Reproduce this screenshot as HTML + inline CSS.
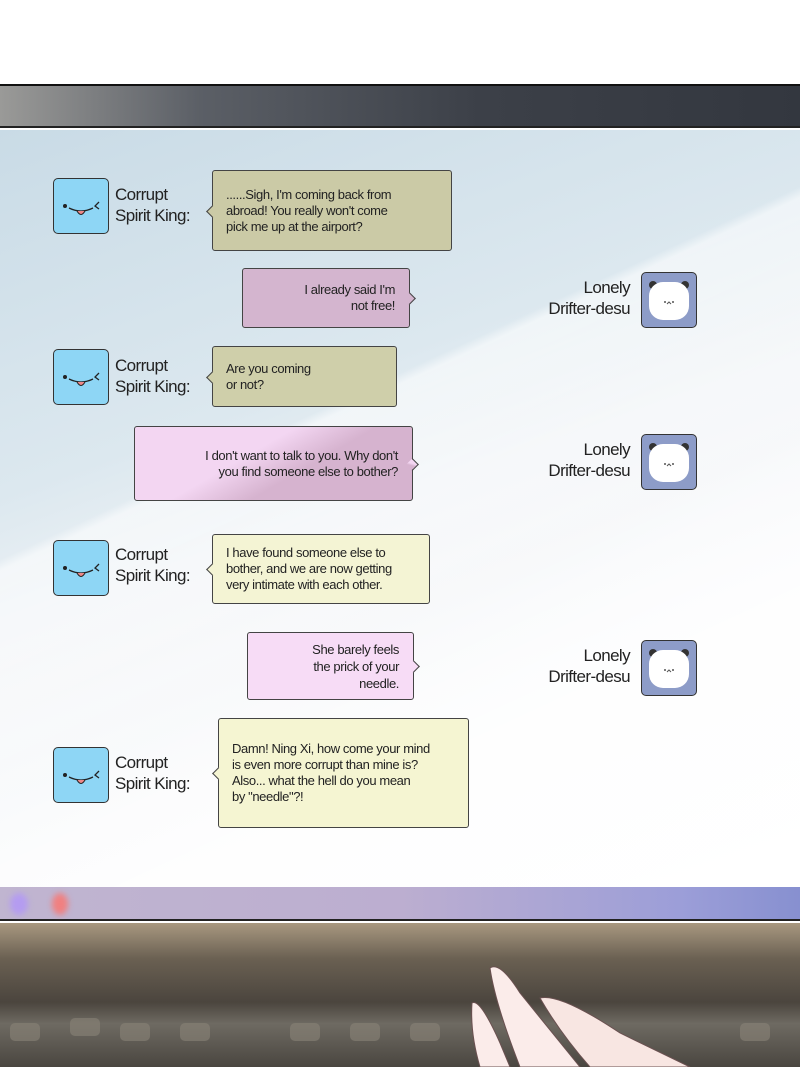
<!DOCTYPE html>
<html><head><meta charset="utf-8"><style>
*{margin:0;padding:0;box-sizing:border-box}
body{width:800px;height:1067px;position:relative;overflow:hidden;background:#fff;font-family:"Liberation Sans Narrow","Liberation Sans",sans-serif;color:#222}
.abs{position:absolute}
.bar{left:0;top:84px;width:800px;height:44px;background:linear-gradient(90deg,#9a9a98 0%,#5b5f66 25%,#3c4048 60%,#33373f 100%);border-top:2px solid #111;border-bottom:2px solid #222}
.screen{left:0;top:130px;width:800px;height:757px;background:linear-gradient(160deg,#c9dbe6 0%,#dce8ef 35%,#f0f3f6 50%,#f8f9fb 70%,#ffffff 100%)}
.diag{left:0;top:130px;width:800px;height:757px;background:linear-gradient(155deg,rgba(255,255,255,0) 38%,rgba(255,255,255,.55) 39%,rgba(255,255,255,.35) 60%,rgba(255,255,255,.8) 75%)}
.purple{left:0;top:887px;width:800px;height:34px;background:linear-gradient(90deg,#c0b5d0 0%,#bcaed0 50%,#9c9ed8 85%,#8790d0 100%);border-bottom:2px solid #222}
.kb{left:0;top:923px;width:800px;height:144px;background:linear-gradient(180deg,#a89880 0%,#6a6052 25%,#4b453e 55%,#6e6a62 70%,#4a4640 100%)}
.av{width:56px;height:56px;border:1.5px solid #333;border-radius:5px}
.blue{background:#8ed6f5}
.panda{background:#8d9cc8}
.name{font-size:17px;line-height:21px;letter-spacing:-0.6px}
.b{border:1.5px solid #444;border-radius:3px;font-size:13px;letter-spacing:-0.4px;line-height:16px;padding:0 0 0 13px;display:flex;flex-direction:column;justify-content:center}
.r{text-align:right;padding:0 14px 0 0}
.b::after{content:"";position:absolute;top:50%;width:8px;height:8px;margin-top:-4px;background:inherit;border:1.5px solid #444;transform:rotate(45deg)}
.l::after{left:-5px;border-top:none;border-right:none}
.r::after{right:-5px;border-bottom:none;border-left:none}
</style></head><body>
<div class="abs bar"></div>
<div class="abs screen"></div>
<div class="abs diag"></div>
<div class="abs purple"></div>
<div class="abs" style="left:10px;top:893px;width:18px;height:22px;border-radius:50%;background:#b49cf0;filter:blur(3px)"></div>
<div class="abs" style="left:52px;top:893px;width:16px;height:22px;border-radius:50%;background:#f08080;filter:blur(3px)"></div>
<div class="abs kb"></div>
<svg class="abs" style="left:0;top:923px" width="800" height="144">
<g fill="#8a8478" opacity=".6"><rect x="10" y="100" width="30" height="18" rx="5"/><rect x="70" y="95" width="30" height="18" rx="5"/><rect x="120" y="100" width="30" height="18" rx="5"/><rect x="180" y="100" width="30" height="18" rx="5"/><rect x="290" y="100" width="30" height="18" rx="5"/><rect x="350" y="100" width="30" height="18" rx="5"/><rect x="410" y="100" width="30" height="18" rx="5"/><rect x="740" y="100" width="30" height="18" rx="5"/></g>
<path d="M490 45 Q500 38 520 70 L580 144 L520 144 Q495 80 490 45Z" fill="#fbecea" stroke="#6a5050" stroke-width="1"/>
<path d="M540 75 Q560 70 620 110 L690 144 L590 144 Q560 110 540 75Z" fill="#f8e6e2" stroke="#6a5050" stroke-width="1"/>
<path d="M472 80 Q480 75 500 120 L510 144 L480 144 Q470 110 472 80Z" fill="#fbecea" stroke="#6a5050" stroke-width="1"/>
</svg>

<div class="abs av blue" style="left:53px;top:178px"></div>
<div class="abs av blue" style="left:53px;top:349px"></div>
<div class="abs av blue" style="left:53px;top:540px"></div>
<div class="abs av blue" style="left:53px;top:747px"></div>
<div class="abs av panda" style="left:641px;top:272px"></div>
<div class="abs av panda" style="left:641px;top:434px"></div>
<div class="abs av panda" style="left:641px;top:640px"></div>
<svg class="abs" style="left:0;top:0" width="800" height="900">
<defs><g id="f"><circle cx="12" cy="28" r="2" fill="#222"/><path d="M16 30 Q28 36 40 30" stroke="#222" fill="none" stroke-width="1.3"/><path d="M24 33 Q28 40 32 33" fill="#e88" stroke="#222" stroke-width="1"/><path d="M46 24 L42 28 L46 31" stroke="#222" fill="none" stroke-width="1.3"/></g>
<g id="p"><circle cx="12" cy="13" r="4" fill="#333"/><circle cx="44" cy="13" r="4" fill="#333"/><rect x="8" y="10" width="40" height="38" rx="14" fill="#fff"/><circle cx="24" cy="30" r="1" fill="#555"/><circle cx="32" cy="30" r="1" fill="#555"/><path d="M26 32 L28 30 L30 32" stroke="#555" fill="none"/></g></defs>
<use href="#f" x="53" y="178"/><use href="#f" x="53" y="349"/><use href="#f" x="53" y="540"/><use href="#f" x="53" y="747"/>
<use href="#p" x="641" y="272"/><use href="#p" x="641" y="434"/><use href="#p" x="641" y="640"/>
</svg>

<div class="abs name" style="left:115px;top:184px">Corrupt<br>Spirit King:</div>
<div class="abs name" style="left:115px;top:355px">Corrupt<br>Spirit King:</div>
<div class="abs name" style="left:115px;top:544px">Corrupt<br>Spirit King:</div>
<div class="abs name" style="left:115px;top:752px">Corrupt<br>Spirit King:</div>
<div class="abs name" style="right:170px;top:277px;text-align:right">Lonely<br>Drifter-desu</div>
<div class="abs name" style="right:170px;top:439px;text-align:right">Lonely<br>Drifter-desu</div>
<div class="abs name" style="right:170px;top:645px;text-align:right">Lonely<br>Drifter-desu</div>

<div class="abs b l" style="left:212px;top:170px;width:240px;height:81px;background:#cbcaa6">......Sigh, I'm coming back from<br>abroad! You really won't come<br>pick me up at the airport?</div>
<div class="abs b r" style="left:242px;top:268px;width:168px;height:60px;background:#d4b5cf">I already said I'm<br>not free!</div>
<div class="abs b l" style="left:212px;top:346px;width:185px;height:61px;background:#cfcfaa">Are you coming<br>or not?</div>
<div class="abs b r" style="left:134px;top:426px;width:279px;height:75px;background:linear-gradient(150deg,#f3d6f2 40%,#d6b3cf 60%)">I don't want to talk to you. Why don't<br>you find someone else to bother?</div>
<div class="abs b l" style="left:212px;top:534px;width:218px;height:70px;background:#f4f4d4">I have found someone else to<br>bother, and we are now getting<br>very intimate with each other.</div>
<div class="abs b r" style="left:247px;top:632px;width:167px;height:68px;background:#f7dcf6;line-height:17px">She barely feels<br>the prick of your<br>needle.</div>
<div class="abs b l" style="left:218px;top:718px;width:251px;height:110px;background:#f5f5d2">Damn! Ning Xi, how come your mind<br>is even more corrupt than mine is?<br>Also... what the hell do you mean<br>by "needle"?!</div>
</body></html>
